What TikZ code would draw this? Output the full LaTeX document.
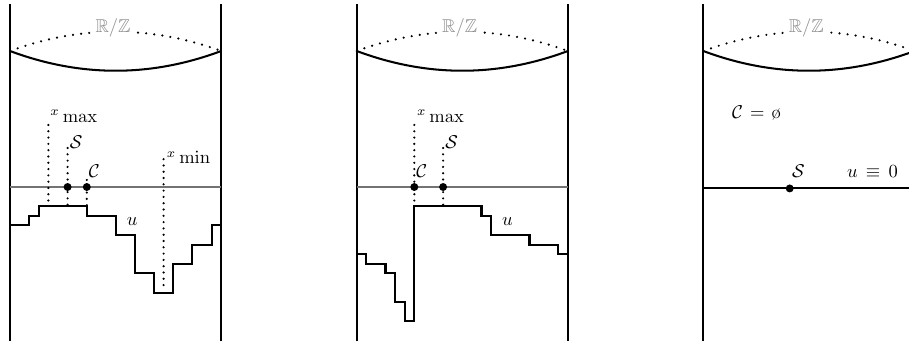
\documentclass[tikz,border=0pt]{standalone}
\usepackage{amssymb}
\begin{document}
\begin{tikzpicture}[x=0.54pt,y=-0.54pt,
  wall/.style={line width=1.2pt},
  arcline/.style={line width=1.1pt},
  arcdots/.style={line width=1.3pt, dash pattern=on 0pt off 4.4pt, line cap=round},
  stepline/.style={line width=1.1pt, line join=miter},
  levelline/.style={line width=0.6pt, black!55},
  zeroline/.style={line width=1.1pt},
  guide/.style={line width=1.3pt, dash pattern=on 0pt off 3.4pt, line cap=round},
  pnt/.style={circle, fill, inner sep=0pt, minimum size=4.3pt},
  lab/.style={anchor=base west, inner sep=0pt},
  quot/.style={anchor=base, text=black!45, fill=white, inner sep=0.6pt},
  grid/.style={shift={(0,206.2)}, x=5.184pt, y=-5.184pt}]

\clip (0,0) rectangle (909,346);

% ---------- first cylinder ----------
\begin{scope}[shift={(10,0)}]
  \draw[wall] (0,4) -- (0,341);
  \draw[wall] (211.2,4) -- (211.2,341);
  \draw[arcline] (0,51) .. controls (70.4,77.3) and (140.8,77.3) .. (211.2,51);
  \draw[arcdots] (0,51) .. controls (70.4,25.3) and (140.8,25.3) .. (211.2,51);
  \node[quot] (rz1) at (103,33) {$\mathbb{R}/\mathbb{Z}$};
  \begin{scope}[grid]
    \draw[levelline] (0,-2) -- (22,-2);
    \draw[stepline] (0,2) -- (2,2) -- (2,1) -- (3,1) -- (3,0) -- (8,0) -- (8,1)
      -- (11,1) -- (11,3) -- (13,3) -- (13,7) -- (15,7) -- (15,9) -- (17,9)
      -- (17,6) -- (19,6) -- (19,4) -- (21,4) -- (21,2) -- (22,2);
    \coordinate (xmaxtop1) at (4,-8.46);  \coordinate (xmaxbot1) at (4,0);
    \coordinate (stop1) at (6,-6.06);     \coordinate (sbot1) at (6,0);
    \coordinate (ctop1) at (8,-2.73);     \coordinate (cbot1) at (8,0);
    \coordinate (xmintop1) at (16,-4.9);  \coordinate (xminbot1) at (16,8.8);
    \draw[guide] (xmaxtop1) -- (xmaxbot1);
    \draw[guide] (stop1) -- (sbot1);
    \draw[guide] (ctop1) -- (cbot1);
    \draw[guide] (xmintop1) -- (xminbot1);
    \node[pnt] (s1) at (6,-2) {};
    \node[pnt] (c1) at (8,-2) {};
    \node[lab] (lxmax1) at (4.17,-8.72) {${}^{x}\max$};
    \node[lab] (ls1) at (6.2,-6.06) {$\mathcal{S}$};
    \node[lab] (lc1) at (8.18,-3.04) {$\mathcal{C}$};
    \node[lab] (lxmin1) at (16.3,-4.4) {${}^{x}\min$};
    \node[lab] (lu1) at (12.14,1.96) {$u$};
  \end{scope}
\end{scope}

% ---------- second cylinder ----------
\begin{scope}[shift={(356.7,0)}]
  \draw[wall] (0,4) -- (0,341);
  \draw[wall] (211.2,4) -- (211.2,341);
  \draw[arcline] (0,51) .. controls (70.4,77.3) and (140.8,77.3) .. (211.2,51);
  \draw[arcdots] (0,51) .. controls (70.4,25.3) and (140.8,25.3) .. (211.2,51);
  \node[quot] (rz2) at (103,33) {$\mathbb{R}/\mathbb{Z}$};
  \begin{scope}[grid]
    \draw[levelline] (0,-2) -- (22,-2);
    \draw[stepline] (0,5) -- (1,5) -- (1,6) -- (3,6) -- (3,7) -- (4,7) -- (4,10)
      -- (5,10) -- (5,12) -- (6,12) -- (6,0) -- (13,0) -- (13,1) -- (14,1)
      -- (14,3) -- (18,3) -- (18,4) -- (21,4) -- (21,5) -- (22,5);
    \coordinate (xmaxtop2) at (6,-8.46);  \coordinate (xmaxbot2) at (6,0);
    \coordinate (stop2) at (9,-6.06);     \coordinate (sbot2) at (9,0);
    \draw[guide] (xmaxtop2) -- (xmaxbot2);
    \draw[guide] (stop2) -- (sbot2);
    \node[pnt] (c2) at (6,-2) {};
    \node[pnt] (s2) at (9,-2) {};
    \node[lab] (lxmax2) at (6.25,-8.72) {${}^{x}\max$};
    \node[lab] (ls2) at (9.2,-6.06) {$\mathcal{S}$};
    \node[lab] (lc2) at (6.18,-3.04) {$\mathcal{C}$};
    \node[lab] (lu2) at (15.1,1.96) {$u$};
  \end{scope}
\end{scope}

% ---------- third cylinder ----------
\begin{scope}[shift={(703.3,0)}]
  \draw[wall] (0,4) -- (0,341);
  \draw[arcline] (0,51) .. controls (70.4,77.3) and (140.8,77.3) .. (211.2,51);
  \draw[arcdots] (0,51) .. controls (70.4,25.3) and (140.8,25.3) .. (211.2,51);
  \node[quot] (rz3) at (103,33) {$\mathbb{R}/\mathbb{Z}$};
  \begin{scope}[grid]
    \coordinate (zl) at (0,-1.85);
    \coordinate (zr) at (22,-1.85);
    \draw[zeroline] (zl) -- (zr);
    \node[pnt] (s3) at (9,-1.85) {};
    \node[lab] (ls3) at (9.2,-3.04) {$\mathcal{S}$};
    \node[lab] (lu3) at (14.94,-3.04) {$u\,\equiv\,0$};
    \node[lab] (lc3) at (2.96,-9.14) {$\mathcal{C}\mskip2mu=\mskip2mu\mbox{\o}$};
  \end{scope}
\end{scope}
\end{tikzpicture}
\end{document}
